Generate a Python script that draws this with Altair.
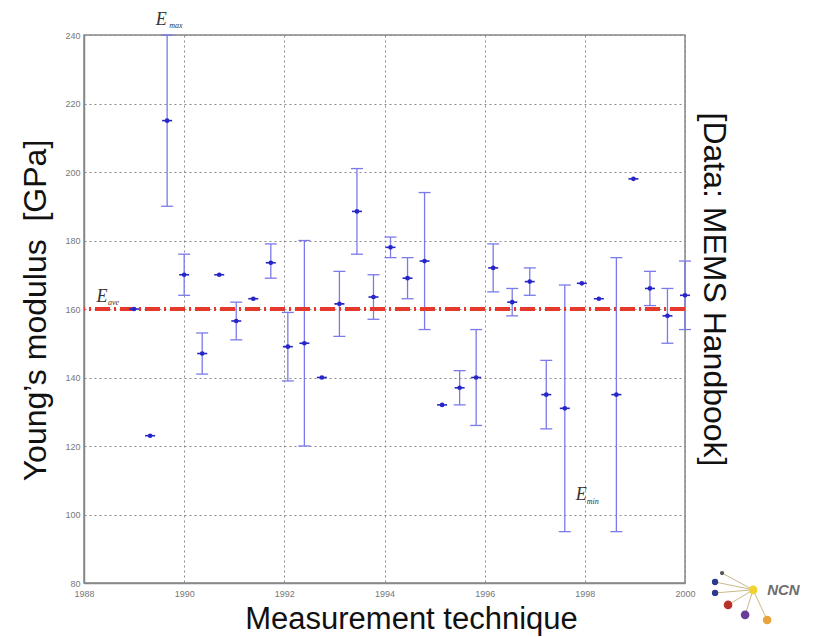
import altair as alt
import pandas as pd

# ---- data ----
years = [1989.0, 1989.32, 1989.66, 1990.0, 1990.36, 1990.7, 1991.04, 1991.38, 1991.73,
         1992.07, 1992.4, 1992.75, 1993.1, 1993.45, 1993.78, 1994.12, 1994.46, 1994.8,
         1995.15, 1995.5, 1995.83, 1996.17, 1996.55, 1996.9, 1997.23, 1997.6, 1997.94,
         1998.28, 1998.63, 1998.97, 1999.3, 1999.65, 2000.0]
modulus = [160, 123, 215, 170, 147, 170, 156.5, 163, 173.5,
           149, 150, 140, 161.5, 188.5, 163.5, 178, 169, 174,
           132, 137, 140, 172, 162, 168, 135, 131, 167.5,
           163, 135, 198, 166, 158, 164]
err_low = [None, None, 190, 164, 141, None, 151, None, 169,
           139, 120, None, 152, 176, 157, 175, 163, 154,
           None, 132, 126, 165, 158, 164, 125, 95, None,
           None, 95, None, 161, 150, 154]
err_high = [None, None, 240, 176, 153, None, 162, None, 179,
            159, 180, None, 171, 201, 170, 181, 175, 194,
            None, 142, 154, 179, 166, 172, 145, 167, None,
            None, 175, None, 171, 166, 174]
e_average = [160]

x_ticks = [1988, 1990, 1992, 1994, 1996, 1998, 2000]
y_ticks = [80, 100, 120, 140, 160, 180, 200, 220, 240]

# annotation labels (E with subscript)
lab_main = ["E", "E", "E"]
lab_main_x = [1989.54, 1988.36, 1997.93]
lab_main_y = [242.9, 162.0, 104.2]
lab_sub = ["max", "ave", "min"]
lab_sub_x = [1989.70, 1988.48, 1998.04]
lab_sub_y = [242.0, 161.2, 103.1]

# NCN logo nodes
logo_x = [2000.74, 2000.60, 2000.60, 2000.86, 2001.20, 2001.64]
logo_y = [82.9, 80.3, 77.1, 73.6, 70.7, 69.2]
logo_col = ["#555555", "#2b3a8c", "#2b3a8c", "#b8322a", "#6a3d9a", "#e8a33a"]
logo_size = [18, 40, 40, 75, 75, 75]
hub_x, hub_y = 2001.36, 78.0

df = pd.DataFrame({"year": years, "E": modulus, "lo": err_low, "hi": err_high})
err_df = df.dropna(subset=["lo"]).reset_index(drop=True)
avg_df = pd.DataFrame({"E": e_average})
main_df = pd.DataFrame({"t": lab_main, "x": lab_main_x, "y": lab_main_y})
sub_df = pd.DataFrame({"t": lab_sub, "x": lab_sub_x, "y": lab_sub_y})
logo_df = pd.DataFrame({"x": logo_x, "y": logo_y, "c": logo_col, "s": logo_size,
                        "hx": [hub_x] * len(logo_x), "hy": [hub_y] * len(logo_x)})
hub_df = pd.DataFrame({"x": [hub_x], "y": [hub_y]})
ncn_df = pd.DataFrame({"x": [2001.64], "y": [76.6], "t": ["NCN"]})

xs = alt.Scale(domain=[1988, 2000], nice=False, zero=False)
ys = alt.Scale(domain=[80, 240], nice=False, zero=False)

x_axis = alt.Axis(values=x_ticks, format="d", grid=True, gridColor="#8a8a8a",
                  gridDash=[2, 3], gridWidth=1, ticks=False, domainColor="#888888",
                  domainWidth=1.5, labelColor="#777777", labelFontSize=9,
                  labelFont="Liberation Sans", labelPadding=6, labelFlush=False,
                  title="Measurement technique", titleFont="Liberation Sans",
                  titleFontSize=31, titleFontWeight="normal", titleColor="#111111",
                  titleX=327, titleY=45, titleAlign="center", titleBaseline="alphabetic")
y_axis = alt.Axis(values=y_ticks, grid=True, gridColor="#8a8a8a", gridDash=[2, 3],
                  gridWidth=1, ticks=False, domainColor="#888888", domainWidth=1.5,
                  labelColor="#777777", labelFontSize=9, labelFont="Liberation Sans",
                  labelPadding=4, labelFlush=False,
                  title="Young\u2019s modulus\u00a0\u00a0[GPa]",
                  titleFont="Liberation Sans", titleFontSize=32, titleFontWeight="normal",
                  titleColor="#111111", titleAngle=-90, titleX=-39, titleY=275,
                  titleAlign="center", titleBaseline="alphabetic")
y_axis_right = alt.Axis(orient="right", grid=False, ticks=False, labels=False,
                        domain=False, title="[Data: MEMS Handbook]",
                        titleFont="Liberation Sans", titleFontSize=32,
                        titleFontWeight="normal", titleColor="#111111", titleAngle=90,
                        titleX=18, titleY=254, titleAlign="center",
                        titleBaseline="alphabetic")

bar_color = "#7a7aea"
pt_color = "#2626c8"

bars = alt.Chart(err_df).mark_rule(color=bar_color, strokeWidth=1.3).encode(
    x=alt.X("year:Q", scale=xs, axis=x_axis),
    y=alt.Y("lo:Q", scale=ys, axis=y_axis),
    y2="hi:Q",
)
cap_hi = alt.Chart(err_df).mark_tick(orient="horizontal", size=12, thickness=1.3,
                                     color=bar_color, opacity=1).encode(
    x=alt.X("year:Q", scale=xs, axis=None),
    y=alt.Y("hi:Q", scale=ys, axis=None),
)
cap_lo = alt.Chart(err_df).mark_tick(orient="horizontal", size=12, thickness=1.3,
                                     color=bar_color, opacity=1).encode(
    x=alt.X("year:Q", scale=xs, axis=None),
    y=alt.Y("lo:Q", scale=ys, axis=None),
)
avg_line = alt.Chart(avg_df).mark_rule(color="#e4392c", strokeWidth=4,
                                       strokeDash=[15, 4, 2, 4]).encode(
    y=alt.Y("E:Q", scale=ys, axis=y_axis_right),
)
pts_tick = alt.Chart(df).mark_tick(orient="horizontal", size=10, thickness=1.6,
                                   color=pt_color, opacity=1).encode(
    x=alt.X("year:Q", scale=xs, axis=None),
    y=alt.Y("E:Q", scale=ys, axis=None),
)
pts = alt.Chart(df).mark_point(filled=True, shape="circle", size=22, color=pt_color,
                               opacity=1).encode(
    x=alt.X("year:Q", scale=xs, axis=None),
    y=alt.Y("E:Q", scale=ys, axis=None),
)
lab_e = alt.Chart(main_df).mark_text(font="Liberation Serif", fontStyle="italic",
                                     fontSize=18, color="#333333", align="center",
                                     baseline="alphabetic").encode(
    x=alt.X("x:Q", scale=xs, axis=None),
    y=alt.Y("y:Q", scale=ys, axis=None),
    text="t:N",
)
lab_s = alt.Chart(sub_df).mark_text(font="Liberation Serif", fontStyle="italic",
                                    fontSize=8, color="#333333", align="left",
                                    baseline="alphabetic").encode(
    x=alt.X("x:Q", scale=xs, axis=None),
    y=alt.Y("y:Q", scale=ys, axis=None),
    text="t:N",
)
logo_lines = alt.Chart(logo_df).mark_rule(color="#c9b98a", strokeWidth=1).encode(
    x=alt.X("x:Q", scale=xs, axis=None),
    y=alt.Y("y:Q", scale=ys, axis=None),
    x2="hx:Q",
    y2="hy:Q",
)
logo_nodes = alt.Chart(logo_df).mark_point(filled=True, shape="circle",
                                           opacity=1).encode(
    x=alt.X("x:Q", scale=xs, axis=None),
    y=alt.Y("y:Q", scale=ys, axis=None),
    color=alt.Color("c:N", scale=None, legend=None),
    size=alt.Size("s:Q", scale=None, legend=None),
)
logo_hub = alt.Chart(hub_df).mark_point(filled=True, shape="circle", size=75,
                                        color="#f0d330", opacity=1).encode(
    x=alt.X("x:Q", scale=xs, axis=None),
    y=alt.Y("y:Q", scale=ys, axis=None),
)
logo_text = alt.Chart(ncn_df).mark_text(font="Liberation Sans", fontStyle="italic",
                                        fontWeight="bold", fontSize=15,
                                        color="#6e6e6e", align="left",
                                        baseline="alphabetic").encode(
    x=alt.X("x:Q", scale=xs, axis=None),
    y=alt.Y("y:Q", scale=ys, axis=None),
    text="t:N",
)

chart = alt.layer(
    bars, cap_hi, cap_lo, avg_line, pts_tick, pts, lab_e, lab_s,
    logo_lines, logo_nodes, logo_hub, logo_text,
).resolve_axis(x="independent", y="independent").properties(
    width=601, height=548,
    autosize=alt.AutoSizeParams(type="none"),
    padding={"left": 84, "top": 35, "right": 138, "bottom": 54},
    background="white",
).configure_view(stroke="#888888", strokeWidth=1.5)

chart.save("out.html", embed_options={"renderer": "svg", "actions": False})
